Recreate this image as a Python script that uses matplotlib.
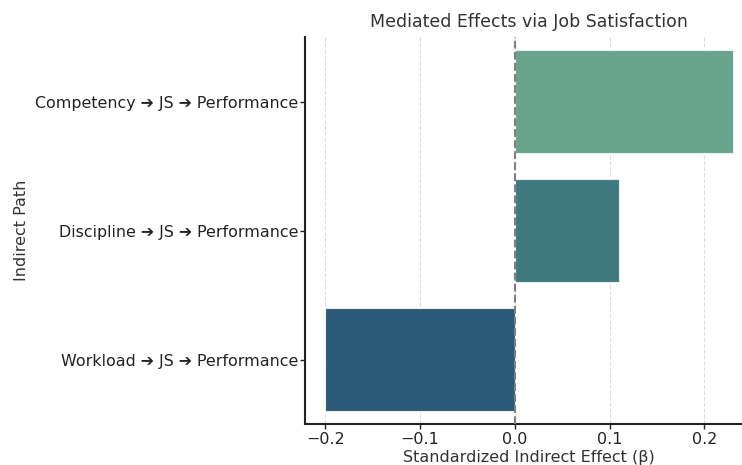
import matplotlib.pyplot as plt
import seaborn as sns

# data
paths = ["Competency ➔ JS ➔ Performance",
         "Discipline ➔ JS ➔ Performance",
         "Workload ➔ JS ➔ Performance"]
effects = [0.23, 0.11, -0.20]
colors = ["#69a38e", "#3e797f", "#2c5b78"]

sns.set_style("ticks")
plt.rcParams['font.family'] = ['DejaVu Sans']

fig = plt.figure(figsize=(7.42, 4.65), dpi=100)
ax = fig.add_axes([0.411, 0.088, 0.604, 0.832])

ypos = range(len(paths))
ax.barh(ypos, effects, height=0.8, color=colors, edgecolor="#e8efee",
        linewidth=0.8, zorder=2)
ax.axvline(0, color="gray", linestyle="--", linewidth=1.5, zorder=3)

ax.set_yticks(list(ypos))
ax.set_yticklabels(paths, fontsize=11.4, color="#222222")
ax.set_ylim(2.5, -0.5)
ax.set_xlim(-0.2215, 0.2515)
ax.set_xticks([-0.2, -0.1, 0.0, 0.1, 0.2])
ax.tick_params(axis="both", length=3.5, width=1, pad=2.5, colors="#222222")
ax.tick_params(axis="y", pad=1.5)
ax.tick_params(axis="x", labelsize=11.5)
ax.grid(axis="x", linestyle="--", color="#dddddd", linewidth=0.8, zorder=0)

ax.set_xlabel("Standardized Indirect Effect (β)", fontsize=11.5, color="#333333", labelpad=2)
ax.set_ylabel("Indirect Path", fontsize=11.5, color="#333333", labelpad=4)
ax.set_title("Mediated Effects via Job Satisfaction", fontsize=12.5, color="#333333", pad=7)

for side in ["top", "right"]:
    ax.spines[side].set_visible(False)
ax.spines["left"].set_color("#222222")
ax.spines["bottom"].set_color("#222222")
ax.spines["left"].set_linewidth(1.5)
ax.spines["bottom"].set_linewidth(1.5)

fig.savefig("out.png", dpi=100)
